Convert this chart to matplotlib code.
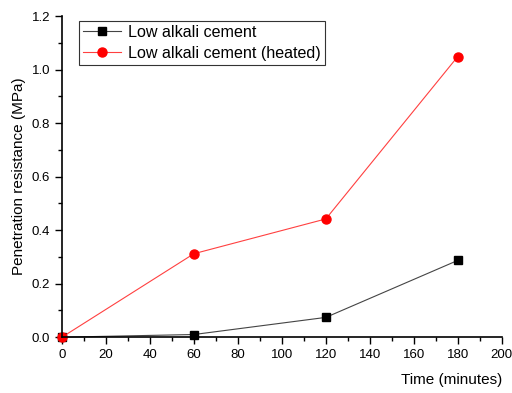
import matplotlib
matplotlib.use("Agg")
import matplotlib.pyplot as plt
from matplotlib.ticker import MultipleLocator

plt.rcParams['font.family'] = ['Liberation Sans', 'DejaVu Sans']

time_min = [0, 60, 120, 180]
low_alkali = [0.0, 0.01, 0.074, 0.287]
low_alkali_heated = [0.0, 0.312, 0.442, 1.049]

fig = plt.figure(figsize=(5.12, 3.93), dpi=100)
ax = fig.add_axes([0.121, 0.142, 0.859, 0.817])

ax.plot(time_min, low_alkali, color='#444444', lw=0.8, marker='s', ms=5.5,
        mfc='black', mec='black', label='Low alkali cement')
ax.plot(time_min, low_alkali_heated, color='#ff4040', lw=0.8, marker='o', ms=6.5,
        mfc='red', mec='red', label='Low alkali cement (heated)')

ax.set_xlim(0, 200)
ax.set_ylim(0, 1.2)
ax.xaxis.set_major_locator(MultipleLocator(20))
ax.xaxis.set_minor_locator(MultipleLocator(10))
ax.yaxis.set_major_locator(MultipleLocator(0.2))
ax.yaxis.set_minor_locator(MultipleLocator(0.1))
ax.yaxis.set_major_formatter(plt.FormatStrFormatter('%.1f'))

for side in ['top', 'right']:
    ax.spines[side].set_visible(False)
for side in ['left', 'bottom']:
    ax.spines[side].set_linewidth(1.2)
ax.tick_params(which='major', direction='out', length=5, width=1.0, labelsize=9.5)
ax.tick_params(which='minor', direction='out', length=3, width=1.0)
for ln in ax.lines:
    ln.set_clip_on(False)

ax.set_xlabel('Time (minutes)', fontsize=11, loc='right', labelpad=9)
ax.set_ylabel('Penetration resistance (MPa)', fontsize=11)

leg = ax.legend(loc='upper left', bbox_to_anchor=(0.02, 1.01), fontsize=11.6,
                fancybox=False, edgecolor='#333333', framealpha=1,
                handlelength=2.4, borderpad=0.25, labelspacing=0.35, handletextpad=0.4)
leg.get_frame().set_linewidth(0.8)

fig.savefig('out.png', dpi=100)
